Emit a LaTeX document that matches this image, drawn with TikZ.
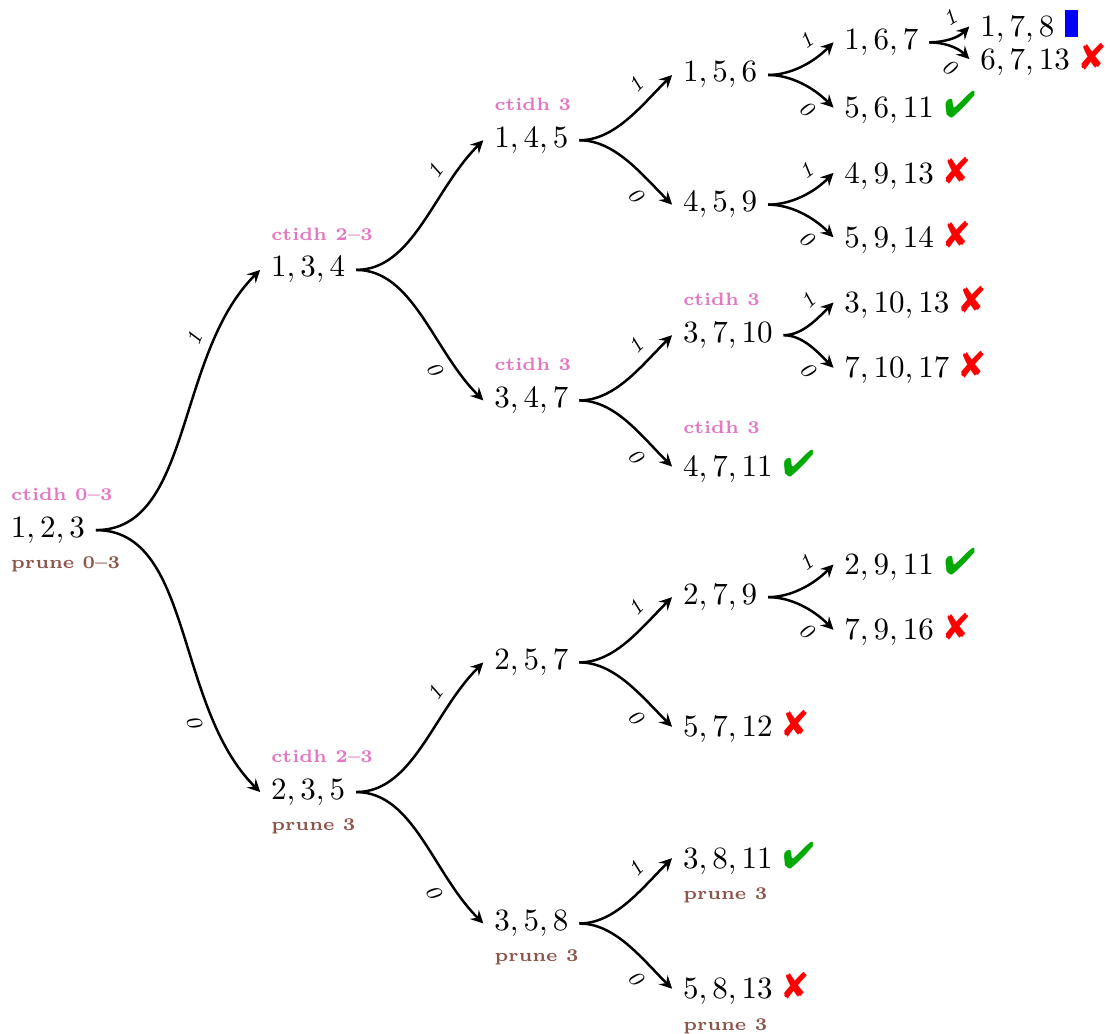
\documentclass[tikz,border=0pt]{standalone}
\usepackage{amsmath}
\usepackage{amssymb}
\usepackage{pifont}
\usepackage{xcolor}
\definecolor{rosa}{RGB}{227,119,194}
\definecolor{cafe}{RGB}{140,86,75}
\definecolor{verde}{RGB}{0,170,0}
\definecolor{rojo}{RGB}{255,0,0}
\usetikzlibrary{arrows,calc}
\tikzstyle{vertex}=[anchor=west, inner sep=0.333em]
\tikzstyle{edge}  =[->, >=stealth, line width=0.8pt,
                    out=0, out looseness=0.8]
\tikzstyle{uno}   =[edge, in=225]
\tikzstyle{cero}  =[edge, in=135]
\tikzstyle{bit}   =[font=\scriptsize\itshape, sloped, pos=0.75]
\tikzstyle{ctidh} =[font=\fontsize{5.8}{7}\selectfont\bfseries, text=rosa, inner sep=0pt,
                    anchor=south west, xshift=3.4pt, yshift=1.5pt]
\tikzstyle{prune} =[font=\fontsize{5.8}{7}\selectfont\bfseries, text=cafe, inner sep=0pt,
                    anchor=north west, xshift=3.4pt, yshift=-0.6pt]
\newcommand{\bien}{\textcolor{verde}{\large\ding{52}}}
\newcommand{\mal}{\textcolor{rojo}{\large\ding{56}}}
\newcommand{\hoja}{\textcolor{blue}{\rule{1ex}{2ex}}}

\begin{document}
\begin{tikzpicture}
    \useasboundingbox (0,0) rectangle (12.585,-11.723);

    \draw (0,-6.01) node (v123) [vertex,label={[ctidh]north west:ctidh 0--3},label={[prune]south west:prune 0--3}] {$1,2,3$};

    \draw (2.95,-3.06) node (v134) [vertex,label={[ctidh]north west:ctidh 2--3}] {$1,3,4$};
    \draw (2.95,-8.98) node (v235) [vertex,label={[ctidh]north west:ctidh 2--3},label={[prune]south west:prune 3}] {$2,3,5$};

    \draw (5.48,-1.59) node (v145) [vertex,label={[ctidh]north west:ctidh 3}] {$1,4,5$};
    \draw (5.48,-4.54) node (v347) [vertex,label={[ctidh]north west:ctidh 3}] {$3,4,7$};
    \draw (5.48,-7.51) node (v257) [vertex] {$2,5,7$};
    \draw (5.48,-10.47) node (v358) [vertex,label={[prune]south west:prune 3}] {$3,5,8$};

    \draw (7.62,-0.85) node (v156) [vertex] {$1,5,6$};
    \draw (7.62,-2.32) node (v459) [vertex] {$4,5,9$};
    \draw (7.62,-3.80) node (v3710) [vertex,label={[ctidh]north west:ctidh 3}] {$3,7,10$};
    \draw (7.62,-5.29) node (v4711) [vertex,label={[ctidh]north west:ctidh 3}] {$4,7,11$ \bien};
    \draw (7.62,-6.77) node (v279) [vertex] {$2,7,9$};
    \draw (7.62,-8.24) node (v5712) [vertex] {$5,7,12$ \mal};
    \draw (7.62,-9.73) node (v3811) [vertex,label={[prune]south west:prune 3}] {$3,8,11$ \bien};
    \draw (7.62,-11.21) node (v5813) [vertex,label={[prune]south west:prune 3}] {$5,8,13$ \mal};

    \draw (9.45,-0.48) node (v167) [vertex] {$1,6,7$};
    \draw (9.45,-1.22) node (v5611) [vertex] {$5,6,11$ \bien};
    \draw (9.45,-1.96) node (v4913) [vertex] {$4,9,13$ \mal};
    \draw (9.45,-2.69) node (v5914) [vertex] {$5,9,14$ \mal};
    \draw (9.45,-3.43) node (v31013) [vertex] {$3,10,13$ \mal};
    \draw (9.45,-4.17) node (v71017) [vertex] {$7,10,17$ \mal};
    \draw (9.45,-6.40) node (v2911) [vertex] {$2,9,11$ \bien};
    \draw (9.45,-7.14) node (v7916) [vertex] {$7,9,16$ \mal};

    \draw (10.99,-0.30) node (v178) [vertex] {$1,7,8$ \hoja};
    \draw (10.99,-0.67) node (v6713) [vertex] {$6,7,13$ \mal};

    \foreach \i/\j in{v123/v134,v134/v145,v235/v257,v145/v156,v347/v3710,
    v257/v279,v358/v3811,v156/v167,v459/v4913,v3710/v31013,v279/v2911,v167/v178}
        \draw [uno] (\i.east) to node [bit,above] {1} (\j.west);

    \foreach \i/\j in{v123/v235,v134/v347,v235/v358,v145/v459,v347/v4711,
    v257/v5712,v358/v5813,v156/v5611,v459/v5914,v3710/v71017,v279/v7916,v167/v6713}
        \draw [cero] (\i.east) to node [bit,below] {0} (\j.west);

\end{tikzpicture}
\end{document}
